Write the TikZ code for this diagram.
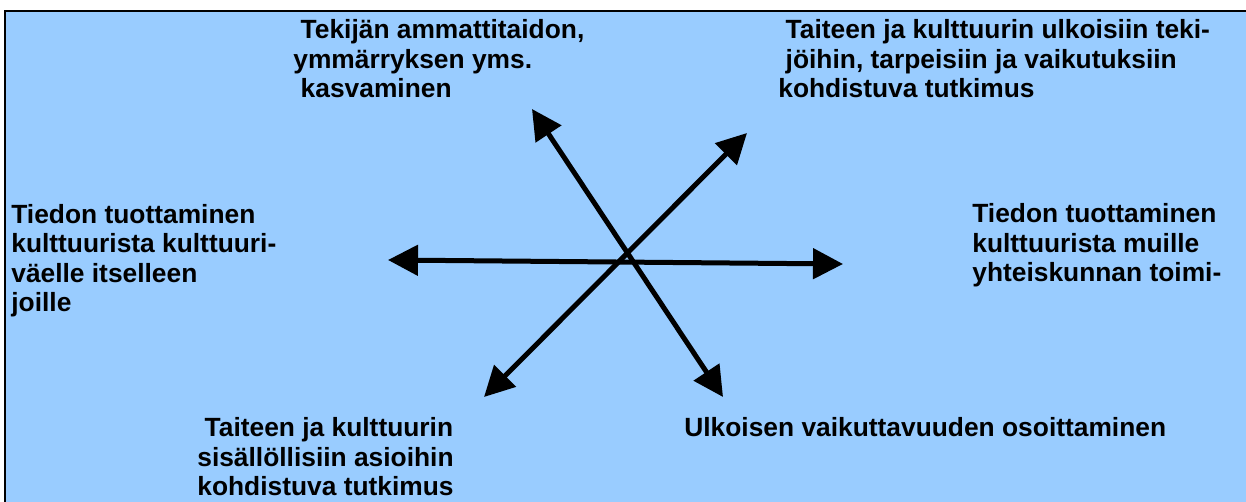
\documentclass[tikz,border=0pt]{standalone}
\usepackage{fontspec}
\setmainfont{Liberation Sans}
\usetikzlibrary{arrows.meta}
\definecolor{taivas}{HTML}{99CCFF}
\begin{document}
\begin{tikzpicture}[x=0.02cm,y=-0.02cm,font=\fontsize{15}{16.8}\selectfont\bfseries]
	\tikzset{teksti/.style={anchor=base west,align=left,inner sep=0pt},
		nuoli/.style={line width=0.1cm,{Triangle[length=0.6cm,width=0.6cm]}-{Triangle[length=0.6cm,width=0.6cm]}}}
	\useasboundingbox (0,0) rectangle (1246,502);
	\fill[taivas] (5,11) rectangle (1246,502);
	\draw[line width=0.04cm] (5,502)--(5,11)--(1246,11);
	\path 
	(388,260)coordinate (V)(843,264)coordinate (O)
	(532,109)coordinate (YV)(723,397)coordinate (AO)
	(747,133)coordinate (YO)(484,397)coordinate (AV)
	;
	% base = viimeisen rivin perusviiva
	\node[teksti] (tekija) at (293,98) {\hspace*{.28em}Tekijän ammattitaidon,\\ymmärryksen yms.\\\hspace*{.28em}kasvaminen};
	\node[teksti] (ulkoisiin) at (778,98) {\hspace*{.28em}Taiteen ja kulttuurin ulkoisiin teki-\\\hspace*{.28em}jöihin, tarpeisiin ja vaikutuksiin\\kohdistuva tutkimus};
	\node[teksti] (itselleen) at (11,312) {Tiedon tuottaminen\\kulttuurista kulttuuri-\\väelle itselleen\\joille};
	\node[teksti] (muille) at (972,282) {Tiedon tuottaminen\\kulttuurista muille\\yhteiskunnan toimi-};
	\node[teksti] (sisalto) at (197,496) {\hspace*{.28em}Taiteen ja kulttuurin\\sisällöllisiin asioihin\\kohdistuva tutkimus};
	\node[teksti] (vaikutus) at (684,437) {Ulkoisen vaikuttavuuden osoittaminen};
	\draw[nuoli] (V)--(O);
	\draw[nuoli] (YV)--(AO);
	\draw[nuoli] (YO)--(AV);
\end{tikzpicture}
\end{document}
